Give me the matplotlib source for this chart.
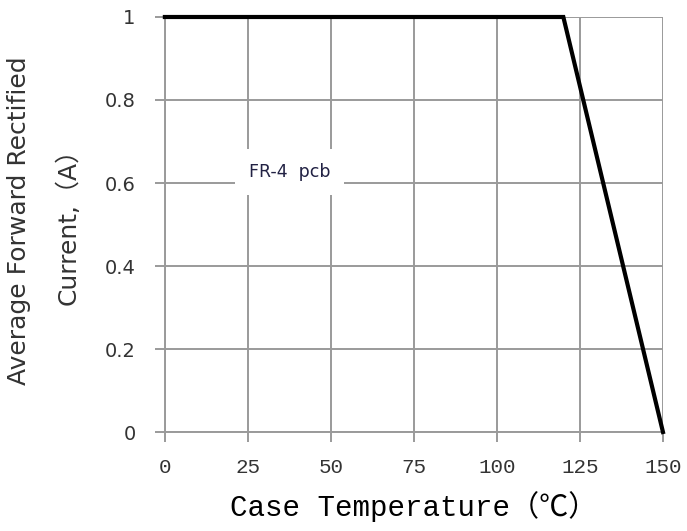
import matplotlib
matplotlib.use('Agg')
import matplotlib.pyplot as plt

# Derating curve
temp = [0, 120, 150]
current = [1, 1, 0]

x_ticks = [0, 25, 50, 75, 100, 125, 150]
y_ticks = [0, 0.2, 0.4, 0.6, 0.8, 1]
y_ticklabels = ['0', '0.2', '0.4', '0.6', '0.8', '1']

fig = plt.figure(figsize=(6.87, 5.31), dpi=100)
ax = fig.add_axes([0.240, 0.1864, 0.725, 0.7816])

grid_c = '#9a9a9a'
ax.set_xlim(0, 150)
ax.set_ylim(0, 1)
ax.set_xticks(x_ticks)
ax.set_yticks(y_ticks)
ax.set_yticklabels(y_ticklabels)
ax.grid(True, color=grid_c, linewidth=1.4)
for s in ax.spines.values():
    s.set_visible(False)
ax.spines['left'].set_visible(True)
ax.spines['bottom'].set_visible(True)
ax.spines['left'].set_color(grid_c)
ax.spines['bottom'].set_color(grid_c)
ax.spines['left'].set_linewidth(1.4)
ax.spines['bottom'].set_linewidth(1.4)
ax.tick_params(direction='out', length=7, width=1.4, color=grid_c,
               labelsize=14, labelcolor='#333333')
ax.tick_params(axis='y', pad=14)
ax.tick_params(axis='x', pad=12)
for lab in ax.get_xticklabels():
    lab.set_family('Liberation Mono')
    lab.set_fontsize(15)

ax.plot(temp, current, color='black', linewidth=3, clip_on=False, zorder=5,
        solid_joinstyle='miter')

ax.text(37.5, 0.626, 'FR-4  pcb', fontsize=12.5, color='#222244', ha='center', va='center',
        bbox=dict(facecolor='white', edgecolor='none', pad=10), zorder=4)

ax.set_xlabel('Case Temperature（℃）', family=['Liberation Mono', 'Noto Sans CJK SC'],
              fontsize=21, labelpad=10)
fig.text(0.028, 0.585, 'Average Forward Rectified', rotation=90, fontsize=18,
         color='#333333', ha='center', va='center')
fig.text(0.100, 0.585, 'Current,（A）', rotation=90, fontsize=18,
         family=['DejaVu Sans', 'Noto Sans CJK SC'],
         color='#333333', ha='center', va='center')

fig.savefig('out.png', dpi=100)
